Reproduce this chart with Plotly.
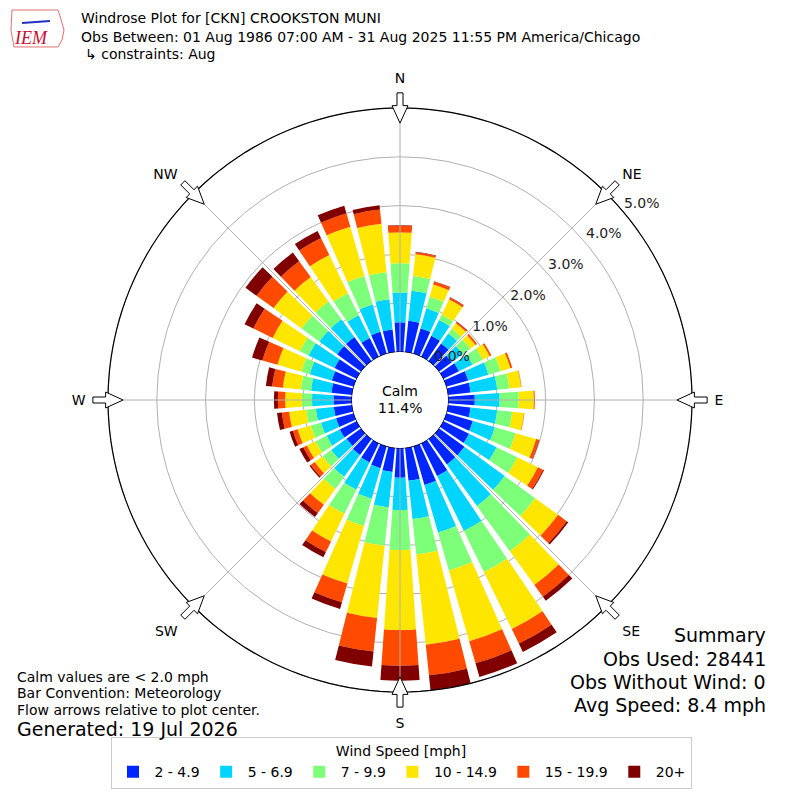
import math
import plotly.graph_objects as go

# wind directions (deg, where the wind comes from)
directions = list(range(0, 360, 10))

speed_bins = ["2 - 4.9", "5 - 6.9", "7 - 9.9", "10 - 14.9", "15 - 19.9", "20+"]
bin_colors = ["#0026ff", "#00d4ff", "#7dff7a", "#ffe600", "#ff4a00", "#800000"]

# frequency [%] per direction for each speed bin
freq_2_5 = [0.61, 0.65, 0.54, 0.48, 0.45, 0.33, 0.36, 0.47, 0.47, 0.55, 0.47, 0.57,
            0.59, 0.65, 0.65, 0.75, 0.83, 0.68, 0.61, 0.50, 0.47, 0.44, 0.41, 0.37,
            0.39, 0.38, 0.38, 0.38, 0.43, 0.47, 0.51, 0.61, 0.61, 0.43, 0.47, 0.47]
freq_5_7 = [0.61, 0.62, 0.43, 0.36, 0.25, 0.28, 0.31, 0.43, 0.55, 0.51, 0.55, 0.47,
            0.63, 1.02, 1.05, 1.25, 1.01, 0.79, 0.66, 0.73, 0.65, 0.62, 0.55, 0.39,
            0.30, 0.32, 0.37, 0.44, 0.42, 0.47, 0.59, 0.45, 0.45, 0.52, 0.58, 0.62]
freq_7_10 = [0.60, 0.30, 0.25, 0.12, 0.12, 0.19, 0.23, 0.26, 0.25, 0.39, 0.31, 0.44,
             0.47, 0.77, 1.15, 0.94, 0.81, 0.73, 0.82, 0.79, 0.58, 0.55, 0.31, 0.22,
             0.25, 0.22, 0.20, 0.21, 0.21, 0.18, 0.20, 0.45, 0.45, 0.50, 0.61, 0.56]
freq_10_15 = [0.63, 0.45, 0.26, 0.35, 0.14, 0.13, 0.16, 0.21, 0.24, 0.31, 0.24, 0.44,
              0.47, 0.58, 0.85, 1.30, 1.51, 1.86, 1.64, 1.49, 1.23, 0.63, 0.40, 0.20,
              0.20, 0.28, 0.35, 0.34, 0.37, 0.51, 0.62, 0.71, 0.62, 0.87, 1.05, 1.00]
freq_15_20 = [0.14, 0.04, 0.06, 0.04, 0.03, 0.04, 0.04, 0.04, 0.01, 0.02, 0.01, 0.06,
              0.12, 0.22, 0.30, 0.33, 0.47, 0.63, 0.73, 0.69, 0.40, 0.24, 0.21, 0.10,
              0.08, 0.10, 0.15, 0.15, 0.22, 0.32, 0.44, 0.43, 0.40, 0.39, 0.29, 0.29]
freq_20p = [0.01, 0.01, 0.01, 0.01, 0.01, 0.00, 0.00, 0.00, 0.00, 0.00, 0.00, 0.01,
            0.02, 0.04, 0.10, 0.19, 0.29, 0.31, 0.31, 0.31, 0.14, 0.12, 0.10, 0.03,
            0.09, 0.07, 0.10, 0.08, 0.13, 0.22, 0.20, 0.28, 0.22, 0.16, 0.16, 0.09]
series = [freq_2_5, freq_5_7, freq_7_10, freq_10_15, freq_15_20, freq_20p]

calm_pct = 11.4
radial_ticks = [0, 1, 2, 3, 4, 5]
compass_angles = [0, 45, 90, 135, 180, 225, 270, 315]
compass_labels = ["N", "NE", "E", "SE", "S", "SW", "W", "NW"]

FONT = "DejaVu Sans"
GRID = "#b0b0b0"

# geometry (pixels): calm hole radius and pixels per percent
hole_px = 48
px_per_pct = 48.8
r_max = 5.45  # room outside the 5% circle for the flow arrows
outer_px = hole_px + px_per_pct * r_max
OFF = 8  # page body margin

fig = go.Figure()

for name, color, vals in zip(speed_bins, bin_colors, series):
    fig.add_trace(go.Barpolar(
        r=vals, theta=directions, name=name, width=8,
        marker=dict(color=color, line=dict(width=0)),
    ))

ring_theta = list(range(0, 361, 2))

# spokes at the compass points
for a in compass_angles:
    fig.add_trace(go.Scatterpolar(
        r=[0, 5], theta=[a, a], mode="lines", line=dict(color=GRID, width=1),
        showlegend=False, hoverinfo="skip",
    ))

# black circles: calm hole edge and the 5% frame
for rv in (0, 5):
    fig.add_trace(go.Scatterpolar(
        r=[rv] * len(ring_theta), theta=ring_theta, mode="lines",
        line=dict(color="black", width=1.2), showlegend=False, hoverinfo="skip",
    ))

# radial percent labels
fig.add_trace(go.Scatterpolar(
    r=[t + 0.39 for t in radial_ticks], theta=[51] * len(radial_ticks),
    mode="text", text=["%.1f%%" % t for t in radial_ticks],
    textfont=dict(family=FONT, size=14, color="#222"),
    showlegend=False, hoverinfo="skip",
))

# flow arrows at the compass points (pixel sizes converted to degrees)
def deg_for(half_px, r_pct):
    return math.degrees(half_px / (hole_px + px_per_pct * r_pct))

for a in compass_angles:
    tip, base, tail = 4.69, 5.05, 5.31
    dh = deg_for(8, base)
    ds = deg_for(3, base)
    dt = deg_for(3, tail)
    rr = [tip, base, base, tail, tail, base, base, tip]
    tt = [a, a + dh, a + ds, a + dt, a - dt, a - ds, a - dh, a]
    fig.add_trace(go.Scatterpolar(
        r=rr, theta=tt, mode="lines", fill="toself", fillcolor="white",
        line=dict(color="black", width=1), showlegend=False, hoverinfo="skip",
    ))

cx = (400 - OFF) / 800
cy = 1 - (400 - OFF) / 800
half = outer_px / 800

fig.update_layout(
    width=800, height=800,
    margin=dict(l=0, r=0, t=0, b=0),
    paper_bgcolor="white",
    font=dict(family=FONT, size=14, color="black"),
    polar=dict(
        domain=dict(x=[cx - half, cx + half], y=[cy - half, cy + half]),
        hole=hole_px / outer_px,
        bgcolor="white",
        radialaxis=dict(range=[0, r_max], tickvals=radial_ticks[1:], showticklabels=False,
                        ticks="", showline=False, gridcolor=GRID, gridwidth=1,
                        layer="above traces"),
        angularaxis=dict(direction="clockwise", rotation=90, tickmode="array",
                         tickvals=compass_angles, ticktext=compass_labels,
                         ticks="", showline=False, showgrid=False,
                         tickfont=dict(family=FONT, size=14)),
    ),
    legend=dict(
        orientation="h", x=(401 - OFF) / 800, xanchor="center",
        y=1 - (789 - OFF) / 800, yanchor="bottom", itemwidth=33,
        title=dict(text="Wind Speed [mph]", side="top center", font=dict(size=14)),
        bordercolor="#cccccc", borderwidth=1, font=dict(family=FONT, size=14),
        traceorder="normal",
    ),
)

def note(text, x, y, size=14, xanchor="left", **kw):
    fig.add_annotation(text=text, x=(x - OFF) / 800, y=1 - (y - OFF) / 800,
                       xref="paper", yref="paper",
                       xanchor=xanchor, yanchor="middle", showarrow=False,
                       font=dict(family=kw.get("family", FONT), size=size,
                                 color=kw.get("color", "black")))

note("Windrose Plot for [CKN] CROOKSTON MUNI", 79, 18)
note("Obs Between: 01 Aug 1986 07:00 AM - 31 Aug 2025 11:55 PM America/Chicago", 79, 37)
note("\u21b3 constraints: Aug", 83, 54)
note("<i>IEM</i>", 31, 38, size=18, xanchor="center", family="Liberation Serif", color="#c8102e")

note("Calm", 400, 391, xanchor="center")
note("%.1f%%" % calm_pct, 400, 408, xanchor="center")

note("Calm values are &lt; 2.0 mph", 15, 677)
note("Bar Convention: Meteorology", 15, 693)
note("Flow arrows relative to plot center.", 15, 710)
note("Generated: 19 Jul 2026", 15, 729, size=19)

note("Summary", 768, 635, size=19, xanchor="right")
note("Obs Used: 28441", 768, 659, size=19, xanchor="right")
note("Obs Without Wind: 0", 768, 682, size=19, xanchor="right")
note("Avg Speed: 8.4 mph", 768, 705, size=19, xanchor="right")

# rough logo outline (state shape) and wind glyph, pixel points
def px(x, y):
    return "%.4f %.4f" % ((x - OFF) / 800, 1 - (y - OFF) / 800)

outline = [(12, 10), (58, 10), (60, 16), (64, 30), (62, 40), (58, 47), (14, 47), (11, 30)]
fig.add_shape(type="path", xref="paper", yref="paper",
              path="M " + " L ".join(px(x, y) for x, y in outline) + " Z",
              line=dict(color="#e07070", width=1))
fig.add_shape(type="line", xref="paper", yref="paper",
              x0=(22 - OFF) / 800, y0=1 - (23 - OFF) / 800,
              x1=(50 - OFF) / 800, y1=1 - (21 - OFF) / 800,
              line=dict(color="#2030c0", width=2))

fig.write_html("out.html")
